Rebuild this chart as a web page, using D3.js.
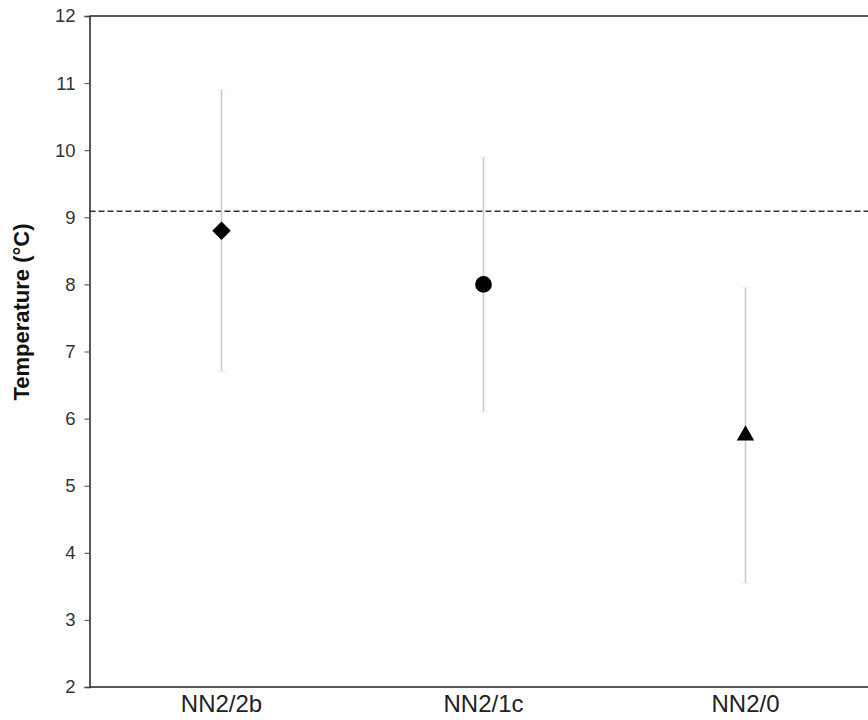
<!DOCTYPE html>
<html>
<head>
<meta charset="utf-8">
<script src="https://cdn.jsdelivr.net/npm/d3@7"></script>
<style>
  body { margin: 0; background: #fff; }
  svg { display: block; font-family: "Liberation Sans", Arial, sans-serif; }
</style>
</head>
<body>
<svg id="chart" width="868" height="720"></svg>
<script>
// data
let categories = ['NN2/2b', 'NN2/1c', 'NN2/0'];
let means = [8.8, 8.0, 5.75];
let lows = [6.7, 6.1, 3.55];
let highs = [10.9, 9.9, 7.95];
let symbols = ['diamond', 'circle', 'triangle'];
let refLine = 9.09;
let yTicks = [2, 3, 4, 5, 6, 7, 8, 9, 10, 11, 12];

let svg = d3.select('#chart');
let width = 868;
let plotLeft = 89.5, plotTop = 16, plotBottom = 687;

let x = d3.scaleBand()
  .domain(categories)
  .range([plotLeft + 1, plotLeft + 787]);

let y = d3.scaleLinear()
  .domain([2, 12])
  .range([plotBottom, plotTop]);

let rows = categories.map((c, i) => ({ cat: c, mean: means[i], lo: lows[i], hi: highs[i], sym: symbols[i] }));

// frame: top and bottom lines run off the right edge
svg.append('line')
  .attr('x1', plotLeft).attr('x2', width)
  .attr('y1', y(12)).attr('y2', y(12))
  .attr('stroke', '#222').attr('stroke-width', 1.5);

svg.append('line')
  .attr('x1', plotLeft).attr('x2', width)
  .attr('y1', y(2)).attr('y2', y(2))
  .attr('stroke', '#222').attr('stroke-width', 1.5);

// y axis
let yAxis = svg.append('g')
  .attr('transform', `translate(${plotLeft},0)`)
  .call(d3.axisLeft(y).tickValues(yTicks).tickSize(5).tickPadding(9));

yAxis.select('.domain').attr('stroke', '#222').attr('stroke-width', 1.5);
yAxis.selectAll('.tick line').attr('stroke', '#444');
yAxis.selectAll('.tick text')
  .attr('fill', '#333')
  .style('font-size', '18.5px')
  .style('font-family', '"Liberation Sans", Arial, sans-serif');

// x axis labels only
let xAxis = svg.append('g')
  .attr('transform', `translate(0,${plotBottom})`)
  .call(d3.axisBottom(x).tickSize(0).tickPadding(8));

xAxis.select('.domain').remove();
xAxis.selectAll('.tick text')
  .attr('fill', '#222')
  .style('font-size', '24px')
  .style('font-family', '"Liberation Sans", Arial, sans-serif');

// axis title
svg.append('text')
  .attr('transform', 'translate(29,312) rotate(-90)')
  .attr('text-anchor', 'middle')
  .style('font-size', '22px')
  .style('font-weight', 'bold')
  .attr('fill', '#111')
  .text('Temperature (°C)');

// reference line
svg.append('line')
  .attr('x1', plotLeft).attr('x2', width)
  .attr('y1', y(refLine)).attr('y2', y(refLine))
  .attr('stroke', '#333')
  .attr('stroke-width', 1.5)
  .attr('stroke-dasharray', '6,3');

// error bars
let cx = d => x(d.cat) + x.bandwidth() / 2;

let bars = svg.append('g').selectAll('g')
  .data(rows)
  .enter().append('g');

bars.append('line')
  .attr('x1', cx).attr('x2', cx)
  .attr('y1', d => y(d.lo)).attr('y2', d => y(d.hi))
  .attr('stroke', '#c8c8c8').attr('stroke-width', 1.5);

bars.selectAll('.cap')
  .data(d => [d.lo, d.hi].map(v => ({ x: cx(d), v: v })))
  .enter().append('line')
  .attr('class', 'cap')
  .attr('x1', d => d.x - 4).attr('x2', d => d.x + 4)
  .attr('y1', d => y(d.v)).attr('y2', d => y(d.v))
  .attr('stroke', '#ececec').attr('stroke-width', 1);

// markers
let shapes = { diamond: d3.symbolDiamond2, circle: d3.symbolCircle, triangle: d3.symbolTriangle2 };
let sizes = { diamond: 16.5, circle: 16.5, triangle: 16.5 };

svg.append('g').selectAll('path')
  .data(rows)
  .enter().append('path')
  .attr('transform', d => `translate(${cx(d)},${y(d.mean)})`)
  .attr('d', d => d3.symbol().type(shapes[d.sym]).size(sizes[d.sym] * sizes[d.sym] * 0.8)())
  .attr('fill', '#000');
</script>
</body>
</html>
